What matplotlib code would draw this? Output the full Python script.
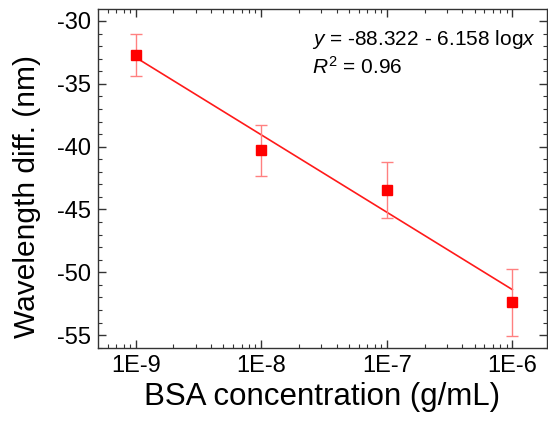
import matplotlib
matplotlib.use("Agg")
import matplotlib.pyplot as plt
import numpy as np
from matplotlib.ticker import LogLocator, MultipleLocator, FixedLocator, FixedFormatter, NullFormatter

plt.rcParams['font.family'] = ['Liberation Sans', 'DejaVu Sans']
plt.rcParams['axes.unicode_minus'] = False
plt.rcParams['mathtext.fontset'] = 'custom'
plt.rcParams['mathtext.rm'] = 'Liberation Sans'
plt.rcParams['mathtext.it'] = 'Liberation Sans:italic'
plt.rcParams['mathtext.bf'] = 'Liberation Sans:bold'

conc = [1e-9, 1e-8, 1e-7, 1e-6]
shift = [-32.7, -40.3, -43.45, -52.4]
err = [1.65, 2.05, 2.2, 2.65]
fit_a = -88.322
fit_b = -6.158
xtick_vals = [1e-9, 1e-8, 1e-7, 1e-6]
xtick_labels = ["1E-9", "1E-8", "1E-7", "1E-6"]

fig = plt.figure(figsize=(5.48, 4.21), dpi=100)
ax = fig.add_axes([98.3/548, 1 - 347.7/421, (546.7-98.3)/548, (347.7-9.3)/421])

xf = np.array([conc[0], conc[-1]])
ax.plot(xf, fit_a + fit_b*np.log10(xf), color='#ff1a1a', lw=1.2, zorder=2)
ax.errorbar(conc, shift, yerr=err, fmt='none', ecolor='#ff8080', elinewidth=1, capsize=4, capthick=1, zorder=3)
ax.plot(conc, shift, 's', color='#ff0000', markersize=7.5, zorder=4, linestyle='none')

ax.set_xscale('log')
ax.set_xlim(10**-9.298, 10**-5.726)
ax.set_ylim(-56.0, -29.07)

ax.xaxis.set_major_locator(FixedLocator(xtick_vals))
ax.xaxis.set_major_formatter(FixedFormatter(xtick_labels))
ax.xaxis.set_minor_locator(LogLocator(base=10, subs=np.arange(2, 10)))
ax.xaxis.set_minor_formatter(NullFormatter())
ax.yaxis.set_major_locator(MultipleLocator(5))
ax.yaxis.set_minor_locator(MultipleLocator(1))

ax.tick_params(which='both', direction='in', top=True, right=True, color='#333333')
ax.tick_params(which='major', length=6, width=1, labelsize=17, pad=5)
ax.tick_params(which='minor', length=3, width=0.8)
for s in ax.spines.values():
    s.set_color('#333333')
    s.set_linewidth(1)

ax.set_xlabel("BSA concentration (g/mL)", fontsize=22.5)
ax.set_ylabel("Wavelength diff. (nm)", fontsize=21.5)
ax.xaxis.set_label_coords(0.5, -0.101)
ax.yaxis.set_label_coords(-0.127, 0.448)

ax.text(0.4766, 0.8945, r"$y$ = -88.322 - 6.158 log$x$", transform=ax.transAxes, fontsize=15, va='baseline', ha='left')
ax.text(0.4766, 0.809, r"$R^2$ = 0.96", transform=ax.transAxes, fontsize=15, va='baseline', ha='left')

fig.savefig("out.png", dpi=100)
